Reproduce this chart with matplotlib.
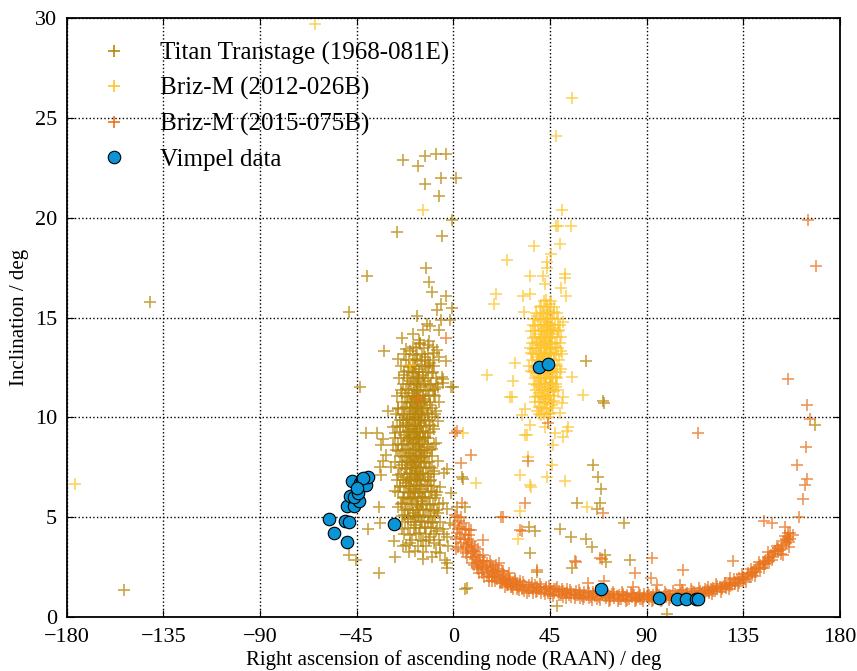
import numpy as np
import matplotlib
matplotlib.use("Agg")
import matplotlib.pyplot as plt

# (RAAN deg, inclination deg)
titan_pts = [
    (-141.3, 15.8), (-153.5, 1.35), (-48.7, 15.3), (-40.3, 17.1), (-26.3, 19.3),
    (-23.5, 22.9), (-16.6, 22.6), (-13.3, 23.1), (-13.3, 21.7), (-8.0, 23.2),
    (-3.5, 23.2), (-5.9, 22.0), (1.0, 22.0), (-6.7, 21.1), (-0.7, 19.9),
    (-5.4, 19.1), (-12.8, 17.5), (-11.4, 16.8), (-10.0, 16.3), (-3.5, 16.1),
    (-5.9, 15.7), (-7.6, 15.4), (-0.7, 15.5), (-17.0, 15.1), (-12.3, 14.7),
    (-10.9, 14.6), (-5.9, 14.9), (-1.6, 14.9), (-24.0, 14.0), (-6.7, 14.4),
    (-32.3, 13.3), (-25.8, 12.9), (-18.8, 13.5), (-15.6, 13.7), (-9.3, 13.5),
    (-6.7, 13.0), (-3.5, 12.8), (-20.7, 12.5), (-5.4, 12.0), (-4.9, 11.7),
    (-0.2, 11.5), (-8.6, 11.4), (-43.5, 11.5), (-30.5, 10.3), (-28.2, 9.5),
    (-40.7, 9.2), (-35.6, 9.2), (-32.8, 8.9), (-33.7, 8.6), (-31.4, 8.1),
    (-34.2, 7.5), (-33.7, 7.1), (-32.8, 7.8), (-34.7, 5.5), (-34.2, 4.7),
    (-39.8, 4.4), (-27.7, 3.8), (-27.2, 3.0), (-34.7, 2.2), (-48.7, 3.1),
    (-45.4, 2.85), (-20.2, 3.7), (-17.9, 3.3), (-14.2, 2.9), (-10.0, 3.0),
    (-6.3, 3.2), (-3.1, 2.7), (-6.3, 3.6), (-1.6, 4.7), (5.4, 5.5),
    (1.5, 5.5), (4.5, 6.9), (-3.1, 7.4), (-4.5, 7.2), (5.4, 1.4),
    (-4.9, 11.9), (-1.0, 11.5), (4.0, 7.0), (-1.0, 6.2), (-3.0, 5.4),
    (-4.0, 2.85), (-3.0, 2.45), (61.7, 12.8), (69.6, 10.8), (70.2, 10.7),
    (65.0, 7.6), (67.3, 7.0), (68.7, 6.4), (68.2, 5.7), (66.8, 5.4),
    (57.5, 5.7), (79.4, 4.7), (61.7, 3.9), (64.5, 3.5), (54.7, 4.0),
    (49.6, 4.4), (38.0, 4.3), (35.2, 4.5), (35.7, 3.2), (38.9, 2.25),
    (70.6, 3.1), (71.0, 2.75), (82.2, 2.85), (55.2, 2.45), (6.3, 1.45),
    (48.2, 0.55), (99.5, 0.15), (168.4, 9.6),
    (-19, 14.2), (-14, 14.4), (-16, 13.9), (-12, 13.6), (-20, 13.3), (-17, 13.1),
    (-13, 13.0), (-22, 13.4), (-9, 13.2),
    (-18, 12.9), (-15, 12.8), (-11, 12.7), (-19, 12.6), (-13, 12.5), (-16, 12.4),
    (-21, 12.3), (-10, 12.2), (-14, 12.1), (-17, 12.0), (-12, 12.6), (-23, 12.1),
    (-16, 11.9), (-20, 11.8), (-13, 11.8), (-18, 11.7), (-11, 11.6), (-15, 11.5),
    (-22, 11.4), (-17, 11.3), (-12, 11.3), (-19, 11.2), (-14, 11.1), (-21, 11.0),
    (-9, 11.1), (-16, 11.0), (-24, 11.2), (-7, 11.5),
    (-18, 10.9), (-13, 10.8), (-20, 10.7), (-15, 10.7), (-11, 10.6), (-17, 10.5),
    (-22, 10.5), (-14, 10.4), (-19, 10.3), (-12, 10.2), (-16, 10.2), (-24, 10.1),
    (-21, 10.0), (-10, 10.0), (-18, 10.0), (-15, 10.1), (-26, 10.4), (-8, 10.3),
    (-13, 10.9), (-17, 10.8),
    (-20, 9.9), (-16, 9.8), (-13, 9.8), (-22, 9.7), (-18, 9.6), (-11, 9.6),
    (-15, 9.5), (-25, 9.5), (-19, 9.4), (-14, 9.3), (-21, 9.3), (-17, 9.2),
    (-12, 9.2), (-23, 9.1), (-16, 9.0), (-9, 9.4), (-20, 9.0), (-27, 9.2),
    (-13, 9.0), (-18, 9.9), (-7, 9.8),
    (-17, 8.9), (-21, 8.8), (-14, 8.8), (-19, 8.7), (-24, 8.6), (-16, 8.6),
    (-12, 8.5), (-18, 8.4), (-22, 8.4), (-15, 8.3), (-20, 8.2), (-13, 8.2),
    (-26, 8.3), (-17, 8.1), (-10, 8.4), (-23, 8.0), (-19, 8.0), (-15, 8.0),
    (-8, 8.7), (-28, 8.6),
    (-18, 7.9), (-21, 7.8), (-16, 7.8), (-13, 7.7), (-24, 7.6), (-19, 7.6),
    (-15, 7.5), (-11, 7.5), (-22, 7.4), (-17, 7.3), (-20, 7.2), (-14, 7.2),
    (-26, 7.1), (-18, 7.0), (-12, 7.0), (-23, 7.0), (-9, 7.3), (-16, 7.1),
    (-29, 7.5), (-7, 7.8),
    (-20, 6.9), (-15, 6.8), (-22, 6.7), (-17, 6.6), (-12, 6.6), (-25, 6.5),
    (-19, 6.4), (-14, 6.4), (-10, 6.3), (-21, 6.2), (-16, 6.2), (-23, 6.0),
    (-18, 6.0), (-13, 6.0), (-8, 6.1), (-27, 6.3), (-11, 6.8), (-6, 6.5),
    (-20, 5.9), (-15, 5.8), (-24, 5.7), (-17, 5.6), (-11, 5.6), (-21, 5.4),
    (-14, 5.4), (-9, 5.3), (-19, 5.2), (-16, 5.1), (-23, 5.1), (-12, 5.0),
    (-7, 5.2), (-18, 5.0), (-5, 5.7), (-26, 5.5),
    (-21, 4.9), (-15, 4.8), (-10, 4.7), (-18, 4.6), (-13, 4.5), (-24, 4.4),
    (-8, 4.3), (-16, 4.2), (-20, 4.1), (-11, 4.0), (-5, 4.4), (-3, 4.0),
    (-14, 3.8), (-22, 3.6), (-9, 3.7),
    (-17.5, 10.6), (-15.5, 9.7), (-18.5, 9.1), (-16.5, 8.5), (-19.5, 7.7),
    (-17.5, 7.5), (-15.5, 6.9), (-18.5, 6.3), (-16.5, 5.5), (-20.5, 8.9),
    (-14.5, 10.3), (-19.5, 10.4), (-16.5, 11.6), (-18.5, 12.2), (-15.5, 8.9),
    (-21.5, 9.6), (-13.5, 8.0), (-17.5, 9.4), (-19.5, 6.8), (-14.5, 6.0),
]

# second layer of the dense Titan cloud
titan_core_pts = [
    (-15.7, 13.75), (-11.2, 13.85),
    (-17.6, 13.45), (-13.8, 13.45), (-7.4, 13.35),
    (-23.1, 13.15), (-18.9, 13.15), (-11.7, 13.15), (-14.6, 13.15),
    (-20.6, 12.85), (-16.8, 12.85), (-13.4, 12.85), (-9.7, 12.85), (-22.2, 12.85),
    (-24.5, 12.55), (-17.9, 12.55), (-14.7, 12.55), (-11.2, 12.55), (-20.3, 12.55), (-8.8, 12.55),
    (-19.4, 12.25), (-15.9, 12.25), (-12.6, 12.25), (-22.8, 12.25), (-17.2, 12.25), (-9.6, 12.25),
    (-25.1, 11.95), (-21.7, 11.95), (-18.6, 11.95), (-14.3, 11.95), (-11.8, 11.95), (-16.4, 11.95), (-8.3, 11.95),
    (-23.4, 11.65), (-19.7, 11.65), (-16.9, 11.65), (-13.6, 11.65), (-10.2, 11.65), (-21.1, 11.65), (-7.4, 11.65),
    (-24.6, 11.35), (-20.8, 11.35), (-18.1, 11.35), (-15.4, 11.35), (-12.7, 11.35), (-9.5, 11.35), (-16.9, 11.35),
    (-26.2, 11.05), (-22.6, 11.05), (-19.3, 11.05), (-16.7, 11.05), (-14.1, 11.05), (-11.4, 11.05), (-8.7, 11.05), (-17.8, 11.05),
    (-24.1, 10.75), (-21.4, 10.75), (-18.8, 10.75), (-16.2, 10.75), (-13.5, 10.75), (-10.8, 10.75), (-6.9, 10.75), (-19.6, 10.75),
    (-25.7, 10.45), (-23.0, 10.45), (-20.4, 10.45), (-17.7, 10.45), (-15.1, 10.45), (-12.4, 10.45), (-9.8, 10.45), (-16.6, 10.45),
    (-26.8, 10.15), (-22.9, 10.15), (-20.1, 10.15), (-17.4, 10.15), (-14.8, 10.15), (-11.9, 10.15), (-8.6, 10.15), (-18.7, 10.15),
    (-24.8, 9.85), (-21.6, 9.85), (-19.1, 9.85), (-16.4, 9.85), (-13.9, 9.85), (-11.2, 9.85), (-23.5, 9.85), (-15.6, 9.85),
    (-26.1, 9.55), (-23.3, 9.55), (-20.7, 9.55), (-17.8, 9.55), (-15.2, 9.55), (-12.6, 9.55), (-9.4, 9.55), (-18.9, 9.55),
    (-25.0, 9.25), (-22.2, 9.25), (-19.7, 9.25), (-16.9, 9.25), (-14.3, 9.25), (-10.9, 9.25), (-20.6, 9.25), (-15.7, 9.25),
    (-27.3, 8.95), (-24.4, 8.95), (-21.8, 8.95), (-18.4, 8.95), (-15.9, 8.95), (-13.1, 8.95), (-11.6, 8.95), (-17.2, 8.95),
    (-25.8, 8.65), (-22.9, 8.65), (-20.3, 8.65), (-17.6, 8.65), (-14.8, 8.65), (-12.2, 8.65), (-9.2, 8.65), (-19.4, 8.65),
    (-26.6, 8.35), (-23.7, 8.35), (-21.1, 8.35), (-18.7, 8.35), (-16.1, 8.35), (-13.8, 8.35), (-11.0, 8.35), (-15.4, 8.35),
    (-24.9, 8.05), (-22.1, 8.05), (-19.6, 8.05), (-17.3, 8.05), (-14.6, 8.05), (-12.5, 8.05), (-9.9, 8.05), (-20.8, 8.05),
    (-27.1, 7.75), (-23.8, 7.75), (-21.4, 7.75), (-18.5, 7.75), (-16.4, 7.75), (-13.9, 7.75), (-11.3, 7.75), (-15.2, 7.75),
    (-25.4, 7.45), (-22.7, 7.45), (-20.2, 7.45), (-17.9, 7.45), (-15.6, 7.45), (-12.8, 7.45), (-10.1, 7.45), (-19.1, 7.45),
    (-24.3, 7.15), (-21.6, 7.15), (-19.2, 7.15), (-16.8, 7.15), (-14.2, 7.15), (-12.0, 7.15), (-8.8, 7.15), (-18.0, 7.15),
    (-26.4, 6.85), (-23.5, 6.85), (-20.9, 6.85), (-18.3, 6.85), (-15.9, 6.85), (-13.3, 6.85), (-10.6, 6.85), (-17.1, 6.85),
    (-24.7, 6.55), (-22.0, 6.55), (-19.8, 6.55), (-17.4, 6.55), (-14.9, 6.55), (-12.3, 6.55), (-9.1, 6.55), (-20.6, 6.55),
    (-25.9, 6.25), (-22.9, 6.25), (-20.3, 6.25), (-17.7, 6.25), (-15.4, 6.25), (-13.0, 6.25), (-10.4, 6.25), (-7.8, 6.25),
    (-23.6, 5.95), (-21.2, 5.95), (-18.8, 5.95), (-16.3, 5.95), (-14.0, 5.95), (-11.5, 5.95), (-8.6, 5.95), (-19.7, 5.95),
    (-24.2, 5.65), (-21.9, 5.65), (-19.4, 5.65), (-17.0, 5.65), (-14.6, 5.65), (-12.1, 5.65), (-9.7, 5.65), (-6.9, 5.65),
    (-22.6, 5.35), (-20.1, 5.35), (-17.6, 5.35), (-15.3, 5.35), (-12.9, 5.35), (-10.3, 5.35), (-7.6, 5.35),
    (-23.9, 5.05), (-21.3, 5.05), (-18.9, 5.05), (-16.5, 5.05), (-13.8, 5.05), (-11.1, 5.05), (-8.4, 5.05),
    (-22.4, 4.75), (-19.8, 4.75), (-17.2, 4.75), (-14.5, 4.75), (-12.0, 4.75), (-9.3, 4.75), (-6.2, 4.75),
    (-21.0, 4.45), (-18.3, 4.45), (-15.7, 4.45), (-13.1, 4.45), (-10.4, 4.45), (-7.5, 4.45),
    (-22.8, 4.15), (-17.5, 4.15), (-12.6, 4.15), (-8.9, 4.15), (-4.5, 4.15),
    (-19.2, 3.85), (-15.1, 3.85), (-11.4, 3.85), (-6.8, 3.85),
    (-23.4, 3.55), (-16.4, 3.55), (-12.9, 3.55), (-2.3, 3.55),
    (-20.7, 3.25), (-14.0, 3.25), (-8.1, 3.25),
]

briz12_pts = [
    (-64.5, 29.7), (-176.3, 6.65), (-14.2, 20.4), (-20.2, 12.6), (4.5, 9.2),
    (55.2, 26.0), (47.8, 24.1), (50.6, 20.4), (47.8, 19.6), (48.7, 19.6),
    (54.7, 19.6), (37.5, 18.6), (49.6, 18.7), (24.9, 17.9), (45.4, 18.2),
    (43.6, 17.8), (43.6, 17.5), (35.7, 17.1), (41.7, 17.1), (51.9, 17.2),
    (51.9, 17.0), (42.6, 16.7), (50.1, 16.5), (19.8, 16.2), (18.9, 15.7),
    (32.4, 16.1), (35.7, 16.2), (52.4, 16.1), (32.9, 15.3), (51.0, 14.8),
    (15.8, 12.1), (28.7, 12.7), (27.7, 11.8), (27.3, 11.0), (55.2, 12.0),
    (60.3, 11.1), (33.3, 10.4), (31.9, 10.1), (51.0, 11.0), (50.5, 10.7),
    (49.6, 10.2), (42.6, 9.5), (53.3, 9.5), (35.7, 9.6), (34.3, 9.1),
    (47.3, 9.2), (51.0, 9.0), (46.4, 8.6), (45.9, 7.6), (34.7, 8.0),
    (31.0, 7.1), (43.6, 7.0), (52.0, 6.8), (35.7, 6.6), (10.7, 6.7),
    (36.2, 6.5), (62.2, 5.5), (31.0, 5.3), (30.0, 3.9), (26.3, 11.0),
    (33.3, 9.1), (53.0, 9.3),
    (43, 15.9), (45, 15.7), (41, 15.6), (44, 15.4), (47, 15.3), (42, 15.2),
    (39, 15.1), (46, 15.0), (44, 15.0),
    (41, 14.9), (43, 14.8), (45, 14.7), (38, 14.6), (47, 14.5), (42, 14.5),
    (44, 14.3), (40, 14.2), (46, 14.2), (43, 14.1), (49, 14.4), (37, 14.0),
    (41, 14.0), (45, 14.0),
    (42, 13.9), (44, 13.8), (39, 13.8), (46, 13.7), (41, 13.6), (43, 13.5),
    (48, 13.5), (37, 13.4), (45, 13.4), (40, 13.3), (42, 13.2), (44, 13.2),
    (47, 13.1), (39, 13.0), (43, 13.0), (41, 13.1), (50, 13.3), (36, 13.2),
    (45, 12.9), (42, 12.8), (40, 12.8), (44, 12.7), (47, 12.6), (38, 12.5),
    (43, 12.5), (41, 12.4), (46, 12.3), (39, 12.2), (44, 12.2), (42, 12.1),
    (48, 12.0), (40, 12.0), (45, 12.0), (36, 12.3), (50, 12.4),
    (43, 11.9), (41, 11.8), (46, 11.7), (39, 11.6), (44, 11.5), (42, 11.4),
    (47, 11.3), (40, 11.2), (45, 11.1), (43, 11.0), (38, 11.0), (48, 11.5),
    (41, 11.0),
    (44, 10.9), (42, 10.7), (46, 10.6), (40, 10.5), (43, 10.4), (45, 10.2),
    (41, 10.1), (44, 10.0), (39, 10.3), (47, 10.8),
    (43.5, 14.6), (42.5, 13.6), (44.5, 12.9), (41.5, 12.9), (43.5, 12.3),
    (42.5, 11.7), (44.5, 11.3), (40.5, 13.6), (45.5, 13.2), (43.5, 15.3),
    (41.5, 14.4), (45.5, 14.4), (42.5, 10.9), (46.5, 12.0), (40.5, 11.5),
]

# second layer of the dense Briz-M 2012 cloud
briz12_core_pts = [
    (42.3, 15.85), (45.6, 15.85),
    (40.2, 15.55), (43.4, 15.55), (46.8, 15.55),
    (38.6, 15.25), (41.7, 15.25), (44.9, 15.25), (48.1, 15.25),
    (37.4, 14.95), (40.3, 14.95), (43.1, 14.95), (45.8, 14.95), (48.6, 14.95),
    (36.9, 14.65), (39.6, 14.65), (42.4, 14.65), (44.3, 14.65), (47.2, 14.65), (49.8, 14.65),
    (38.2, 14.35), (41.0, 14.35), (43.7, 14.35), (46.3, 14.35), (48.9, 14.35), (36.1, 14.35),
    (37.8, 14.05), (40.6, 14.05), (42.9, 14.05), (45.5, 14.05), (48.2, 14.05), (50.3, 14.05),
    (36.4, 13.75), (39.1, 13.75), (41.8, 13.75), (44.6, 13.75), (47.4, 13.75), (49.7, 13.75),
    (38.4, 13.45), (40.9, 13.45), (43.6, 13.45), (46.1, 13.45), (48.8, 13.45), (35.7, 13.45),
    (37.1, 13.15), (39.8, 13.15), (42.5, 13.15), (45.2, 13.15), (47.9, 13.15), (50.6, 13.15),
    (36.6, 12.85), (38.9, 12.85), (41.4, 12.85), (43.9, 12.85), (46.7, 12.85), (49.3, 12.85),
    (37.9, 12.55), (40.4, 12.55), (42.7, 12.55), (45.4, 12.55), (48.1, 12.55), (35.4, 12.55),
    (37.2, 12.25), (39.6, 12.25), (42.0, 12.25), (44.5, 12.25), (47.3, 12.25), (49.6, 12.25),
    (38.1, 11.95), (40.8, 11.95), (43.2, 11.95), (45.9, 11.95), (48.4, 11.95),
    (37.6, 11.65), (40.1, 11.65), (42.6, 11.65), (45.1, 11.65), (47.7, 11.65),
    (38.7, 11.35), (41.3, 11.35), (43.8, 11.35), (46.4, 11.35), (48.9, 11.35),
    (39.4, 11.05), (41.9, 11.05), (44.4, 11.05), (46.9, 11.05),
    (40.3, 10.75), (42.8, 10.75), (45.3, 10.75), (37.9, 10.75),
    (41.2, 10.45), (43.6, 10.45), (46.2, 10.45),
    (42.1, 10.15), (44.7, 10.15), (40.0, 10.15),
]

briz15_pts = [
    (165.1, 19.9), (168.9, 17.6), (155.8, 11.9), (164.6, 10.6), (166.0, 9.9),
    (164.2, 8.5), (160.0, 7.6), (164.6, 6.9), (163.7, 6.6), (162.8, 5.9),
    (161.0, 5.0), (144.6, 4.8), (148.4, 4.7), (154.4, 4.5), (155.8, 4.2),
    (113.9, 9.2), (130.2, 2.8), (106.9, 2.35), (92.5, 2.95), (92.0, 1.95),
    (84.5, 2.2), (56.6, 2.8), (69.2, 2.9), (69.6, 5.2), (22.1, 5.0),
    (33.3, 5.7), (34.7, 7.8), (44.0, 9.7), (31.0, 4.35), (8.1, 8.1),
    (3.4, 7.7), (1.9, 9.3), (4.2, 5.7), (13.8, 3.85), (8.1, 4.35),
    (23.1, 5.0), (32.0, 4.3), (7.2, 4.35), (21.2, 2.7), (38.9, 2.35),
    (57.1, 2.75), (68.2, 2.95), (62.7, 1.7), (70.0, 1.8), (83.6, 1.5),
    (94.8, 1.6), (105.5, 1.6), (128.8, 1.95), (139.0, 2.25), (144.6, 2.75),
    (146.5, 3.25), (150.0, 3.3), (155.3, 3.85), (-16.5, 10.9), (-3.5, 14.0),
    (0.7, 9.2), (1.6, 5.0), (6.3, 3.5), (9.0, 3.3),
    (0.5, 4.6), (1.5, 4.2), (2.5, 4.8), (1.0, 3.9), (3.0, 4.0), (2.0, 3.5),
    (4.0, 4.4), (3.5, 3.7), (5.0, 3.9), (4.5, 3.3), (6.0, 3.6), (5.5, 4.1),
    (7.0, 3.4), (6.5, 3.0), (8.0, 3.2), (7.5, 3.7), (9.0, 3.0), (8.5, 2.7),
    (10.0, 2.9), (9.5, 3.3), (11.0, 2.7), (10.5, 3.1), (12.0, 2.8), (11.5, 2.4),
    (13.0, 2.6), (12.5, 3.0), (14.0, 2.4), (13.5, 2.2), (15.0, 2.5), (14.5, 2.8),
    (16.0, 2.3), (15.5, 2.1), (17.0, 2.4), (16.5, 2.0), (18.0, 2.2), (17.5, 2.6),
    (19.0, 2.0), (18.5, 2.3), (20.0, 2.1), (19.5, 1.8), (21.0, 2.2), (20.5, 1.9),
    (22.0, 1.8), (21.5, 2.0), (23.0, 1.9), (22.5, 1.7), (24.0, 1.8), (23.5, 2.1),
    (25.0, 1.7), (24.5, 1.9), (26.0, 1.8), (25.5, 1.6), (27.0, 1.6), (26.5, 1.9),
    (28.0, 1.7), (27.5, 1.5), (29.0, 1.6), (28.5, 1.8), (30.0, 1.5), (29.5, 1.7),
    (12, 2.2), (14, 3.1), (18, 1.8), (20, 2.6), (23, 2.3), (26, 2.2), (28, 1.4),
    (10, 3.5), (8, 3.8), (6, 4.4), (17, 2.8), (24, 1.5),
    (31, 1.6), (32, 1.4), (33, 1.6), (34, 1.5), (35, 1.3), (36, 1.5), (37, 1.4),
    (38, 1.6), (39, 1.3), (40, 1.4), (41, 1.5), (42, 1.3), (43, 1.4), (44, 1.2),
    (45, 1.4), (46, 1.3), (47, 1.2), (48, 1.4), (49, 1.3), (50, 1.1), (51, 1.3),
    (52, 1.2), (53, 1.4), (54, 1.1), (55, 1.25), (56, 1.15), (57, 1.3), (58, 1.1),
    (59, 1.2), (60, 1.05), (61, 1.25), (62, 1.1), (63, 1.2), (64, 1.0), (65, 1.15),
    (66, 1.05), (67, 1.2), (68, 1.0), (69, 1.1), (70, 1.2), (71, 0.95), (72, 1.1),
    (73, 1.0), (74, 1.15), (75, 0.95), (76, 1.05), (77, 1.1), (78, 0.9), (79, 1.05),
    (80, 1.0), (81, 1.1), (82, 0.9), (83, 1.0), (84, 1.1), (85, 0.95), (86, 1.0),
    (87, 1.1), (88, 0.9), (89, 1.0), (90, 1.05), (91, 0.9), (92, 1.0), (93, 1.1),
    (94, 0.95), (95, 1.0), (96, 1.1), (97, 0.95), (98, 1.05), (99, 1.0), (100, 1.1),
    (101, 0.95), (102, 1.05), (103, 1.15), (104, 1.0), (105, 1.1), (106, 1.2),
    (107, 1.0), (108, 1.1), (109, 1.2), (110, 1.05), (111, 1.15), (112, 1.25),
    (113, 1.1), (114, 1.2), (115, 1.3), (116, 1.15), (117, 1.25), (118, 1.35),
    (119, 1.2), (120, 1.35), (121, 1.45), (122, 1.3), (123, 1.4), (124, 1.5),
    (125, 1.4), (126, 1.55), (127, 1.45), (128, 1.6), (129, 1.7), (130, 1.6),
    (131, 1.75), (132, 1.85), (133, 1.7), (134, 1.9), (135, 2.0), (136, 1.9),
    (137, 2.1), (138, 2.0), (139, 2.2), (140, 2.35), (141, 2.25), (142, 2.5),
    (143, 2.4), (144, 2.65), (145, 2.8), (146, 2.7), (147, 2.95), (148, 3.1),
    (149, 3.0), (150, 3.3), (151, 3.45), (152, 3.35), (153, 3.6), (154, 3.8),
    (155, 3.7), (156, 4.0), (157, 4.2), (158, 4.1), (156.5, 3.5), (153.5, 3.1),
    (31, 1.8), (33, 1.3), (35, 1.6), (37, 1.2), (39, 1.5), (41, 1.2), (43, 1.5),
    (45, 1.1), (47, 1.4), (49, 1.1), (51, 1.0), (53, 1.2), (55, 1.0), (57, 1.1),
    (59, 0.95), (61, 1.0), (63, 0.95), (65, 1.25), (67, 0.9), (69, 1.25), (71, 1.1),
    (73, 0.85), (75, 1.15), (77, 0.9), (79, 1.15), (81, 0.85), (83, 1.15), (85, 0.85),
    (87, 0.9), (89, 1.15), (91, 1.1), (93, 0.85), (95, 1.15), (97, 0.85), (99, 1.15),
    (101, 1.1), (103, 0.95), (105, 0.95), (107, 1.25), (109, 1.0), (111, 1.3),
    (113, 1.0), (115, 1.15), (117, 1.4), (119, 1.3), (121, 1.3), (123, 1.55),
    (125, 1.5), (127, 1.6), (129, 1.55), (131, 1.65), (133, 1.95), (135, 1.85),
    (137, 2.2), (139, 2.1), (141, 2.45), (143, 2.6), (145, 2.65), (147, 2.8),
    (149, 3.2), (151, 3.3), (153, 3.4), (155, 3.9), (157, 3.9),
]

# third layer of the Briz-M 2015 band
briz15_band_pts = [
    (30.5, 1.35), (32.5, 1.75), (34.5, 1.2), (36.5, 1.7), (38.5, 1.25), (40.5, 1.65),
    (42.5, 1.15), (44.5, 1.55), (46.5, 1.05), (48.5, 1.5), (50.5, 1.4), (52.5, 0.95),
    (54.5, 1.35), (56.5, 0.95), (58.5, 1.35), (60.5, 0.9), (62.5, 1.3), (64.5, 0.85),
    (66.5, 1.3), (68.5, 0.85), (70.5, 1.3), (72.5, 0.8), (74.5, 1.25), (76.5, 0.8),
    (78.5, 1.25), (80.5, 0.8), (82.5, 1.2), (84.5, 0.8), (86.5, 1.2), (88.5, 0.8),
    (90.5, 1.2), (92.5, 0.8), (94.5, 1.25), (96.5, 0.8), (98.5, 1.25), (100.5, 0.85),
    (102.5, 1.3), (104.5, 0.85), (106.5, 1.35), (108.5, 0.9), (110.5, 1.4), (112.5, 0.95),
    (114.5, 1.45), (116.5, 1.05), (118.5, 1.5), (120.5, 1.15), (122.5, 1.65), (124.5, 1.25),
    (126.5, 1.7), (128.5, 1.4), (130.5, 1.9), (132.5, 1.55), (134.5, 2.15), (136.5, 1.75),
    (138.5, 2.4), (140.5, 2.05), (142.5, 2.75), (144.5, 2.45), (146.5, 3.0), (148.5, 2.85),
    (150.5, 3.55), (152.5, 3.15), (154.5, 4.05), (156.5, 3.75),
    (0.8, 5.1), (2.2, 4.4), (3.6, 5.0), (1.3, 3.4), (4.8, 4.7), (5.8, 3.2), (7.4, 4.1),
    (8.8, 3.6), (9.7, 2.6), (11.3, 3.4), (12.7, 2.5), (14.2, 2.0), (15.8, 2.7),
    (16.6, 1.8), (18.4, 2.5), (19.6, 2.3), (21.6, 1.7), (22.8, 2.3), (24.8, 1.6),
    (26.8, 1.5), (28.8, 1.9), (3.2, 4.5), (6.8, 3.9), (10.8, 2.5), (13.6, 2.8),
    (17.8, 2.0), (20.8, 2.4), (25.6, 2.0), (29.8, 1.4),
]

vimpel_pts = [
    (-57.9, 4.9), (-55.6, 4.2), (-49.6, 3.75), (-50.5, 4.8), (-48.7, 4.75),
    (-27.7, 4.65), (-49.6, 5.55), (-46.3, 5.55), (-44.0, 5.8), (-48.2, 6.05),
    (-46.3, 6.0), (-44.5, 6.2), (-47.3, 6.8), (-43.5, 6.7), (-42.6, 6.9),
    (-40.7, 6.6), (-39.8, 7.0), (-42.1, 6.95), (-45.0, 6.45),
    (39.8, 12.5), (44.0, 12.65),
    (68.7, 1.4), (95.7, 0.95), (104.1, 0.9), (108.3, 0.9), (113.0, 0.9), (113.9, 0.9),
]

labels = ["Titan Transtage (1968-081E)", "Briz-M (2012-026B)",
          "Briz-M (2015-075B)", "Vimpel data"]
colors = ["#b8860b", "#fdc42d", "#e8741e", "#0b95d6"]

xticks = [-180, -135, -90, -45, 0, 45, 90, 135, 180]
yticks = [0, 5, 10, 15, 20, 25, 30]

plt.rcParams['font.family'] = 'serif'
plt.rcParams['font.serif'] = ['Liberation Serif', 'DejaVu Serif']

fig = plt.figure(figsize=(8.57, 6.71), dpi=100)
ax = fig.add_axes([0.078, 0.0805, 0.902, 0.8925])

series = [titan_pts + titan_core_pts, briz12_pts + briz12_core_pts,
          briz15_pts + briz15_band_pts]
for pts, lab, col in zip(series, labels[:3], colors[:3]):
    arr = np.array(pts)
    ax.plot(arr[:, 0], arr[:, 1], '+', color=col, ms=8, mew=1.2, alpha=0.75, label=lab)

v = np.array(vimpel_pts)
ax.plot(v[:, 0], v[:, 1], 'o', color=colors[3], mec='black', mew=0.8, ms=9,
        label=labels[3], zorder=5)

ax.set_xlim(-180, 180)
ax.set_ylim(0, 30)
ax.set_xticks(xticks)
ax.set_yticks(yticks)
ax.grid(True, linestyle=':', color='black', linewidth=1.0)
ax.tick_params(direction='in', top=True, right=True, labelsize=16, length=5)
ax.tick_params(axis='x', pad=8)
ax.tick_params(axis='y', pad=7)
for s in ax.spines.values():
    s.set_linewidth(1.3)
ax.set_xlabel("Right ascension of ascending node (RAAN) / deg", fontsize=15, labelpad=2)
ax.set_ylabel("Inclination / deg", fontsize=15)

leg = ax.legend(loc='upper left', frameon=False, numpoints=1, fontsize=18,
                handlelength=1.5, handletextpad=1.1, labelspacing=0.5,
                borderaxespad=0.3, bbox_to_anchor=(0.0136, 0.99))
for h in leg.legend_handles:
    h.set_alpha(1.0)

fig.savefig("out.png", dpi=100)
